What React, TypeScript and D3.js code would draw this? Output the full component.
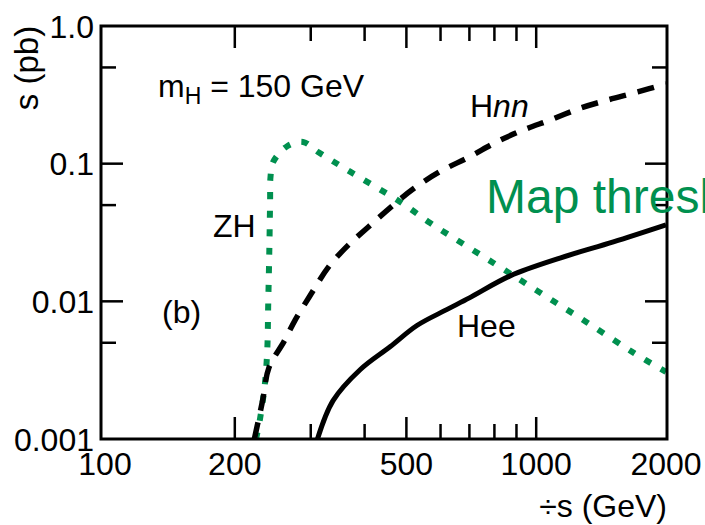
import React from "react";
import * as d3 from "d3";

const W = 705;
const H = 525;

// axis ticks
const xTickMajor = [200, 500, 1000];
const xTickMinor = [300, 400, 600, 700, 800, 900];
const xTickLabels = [100, 200, 500, 1000, 2000];
const yTickMajor = [0.1, 0.01];
const yTickMinor = [0.5, 0.05, 0.005];
const yTickValues = [1, 0.1, 0.01, 0.001];
const yTickLabels = ["1.0", "0.1", "0.01", "0.001"];

// e+e- -> H nu nu (WW fusion), sqrt(s) in GeV, sigma in pb
const hnnSqrtS = [222, 232, 240, 260, 276, 300, 330, 367, 408, 466, 520, 600, 700, 810, 935, 1080, 1270, 1465, 1720, 2000];
const hnnSigma = [0.001, 0.0019, 0.0033, 0.0051, 0.0073, 0.0112, 0.0178, 0.0257, 0.0347, 0.05, 0.066, 0.088, 0.112, 0.144, 0.176, 0.208, 0.254, 0.29, 0.332, 0.38];

// e+e- -> H e e (ZZ fusion)
const heeSqrtS = [311, 338, 391, 459, 530, 620, 700, 870, 1140, 1510, 2000];
const heeSigma = [0.001, 0.0019, 0.0032, 0.0047, 0.0067, 0.0087, 0.0106, 0.0153, 0.0207, 0.027, 0.0359];

// e+e- -> Z H (Higgs-strahlung)
const zhSqrtS = [224, 229, 235, 238, 239, 240.5, 241.5, 242, 245.5, 265, 288, 312, 371, 484, 568, 796, 1024, 1317, 1684, 2000];
const zhSigma = [0.001, 0.00142, 0.00256, 0.00467, 0.0091, 0.0236, 0.0545, 0.08, 0.103, 0.1345, 0.1438, 0.1216, 0.0871, 0.0527, 0.0371, 0.019, 0.0115, 0.00697, 0.00422, 0.00307];

const GREEN = "#00904f";
const FONT = "'Liberation Sans', Arial, Helvetica, sans-serif";

const frame = { left: 101, right: 667, top: 26, bottom: 439 };

export default function App() {
  const x = d3.scaleLog().domain([100, 2000]).range([105, 666]);
  const y = d3.scaleLog().domain([0.001, 1]).range([frame.bottom, frame.top]);

  const line = d3
    .line<[number, number]>()
    .x((d) => x(d[0]))
    .y((d) => y(d[1]))
    .curve(d3.curveCatmullRom.alpha(0.5));

  const zip = (a: number[], b: number[]) => a.map((v, i) => [v, b[i]] as [number, number]);

  const majorLen = 22;
  const minorLen = 15;

  return (
    <svg
      width={W}
      height={H}
      viewBox={`0 0 ${W} ${H}`}
      style={{ position: "absolute", left: 0, top: 0, background: "#fff" }}
      fontFamily={FONT}
    >
      <defs>
        <clipPath id="plot-area">
          <rect x={frame.left} y={frame.top} width={frame.right - frame.left} height={frame.bottom - frame.top} />
        </clipPath>
      </defs>

      {/* curves */}
      <g clipPath="url(#plot-area)" fill="none">
        <path d={line(zip(zhSqrtS, zhSigma)) || ""} stroke={GREEN} strokeWidth={6} strokeDasharray="7 11.5" />
        <path d={line(zip(hnnSqrtS, hnnSigma)) || ""} stroke="#000" strokeWidth={5.5} strokeDasharray="17 12" />
        <path d={line(zip(heeSqrtS, heeSigma)) || ""} stroke="#000" strokeWidth={5} />
      </g>

      {/* ticks */}
      <g stroke="#000" strokeWidth={2.5}>
        {xTickMajor.map((v) => (
          <g key={`xM${v}`}>
            <line x1={x(v)} x2={x(v)} y1={frame.bottom} y2={frame.bottom - majorLen} />
            <line x1={x(v)} x2={x(v)} y1={frame.top} y2={frame.top + majorLen} />
          </g>
        ))}
        {xTickMinor.map((v) => (
          <g key={`xm${v}`}>
            <line x1={x(v)} x2={x(v)} y1={frame.bottom} y2={frame.bottom - minorLen} />
            <line x1={x(v)} x2={x(v)} y1={frame.top} y2={frame.top + minorLen} />
          </g>
        ))}
        {yTickMajor.map((v) => (
          <g key={`yM${v}`}>
            <line x1={frame.left} x2={frame.left + majorLen} y1={y(v)} y2={y(v)} />
            <line x1={frame.right} x2={frame.right - majorLen} y1={y(v)} y2={y(v)} />
          </g>
        ))}
        {yTickMinor.map((v) => (
          <g key={`ym${v}`}>
            <line x1={frame.left} x2={frame.left + minorLen} y1={y(v)} y2={y(v)} />
            <line x1={frame.right} x2={frame.right - minorLen} y1={y(v)} y2={y(v)} />
          </g>
        ))}
      </g>

      {/* frame */}
      <rect
        x={frame.left}
        y={frame.top}
        width={frame.right - frame.left}
        height={frame.bottom - frame.top}
        fill="none"
        stroke="#000"
        strokeWidth={3}
      />

      {/* tick labels */}
      <g fontSize={32} fill="#000">
        {xTickLabels.map((v) => (
          <text key={`xl${v}`} x={x(v)} y={475} textAnchor="middle">
            {v}
          </text>
        ))}
        {yTickValues.map((v, i) => (
          <text key={`yl${v}`} x={94} y={y(v) + 11.5} textAnchor="end">
            {yTickLabels[i]}
          </text>
        ))}
      </g>

      {/* axis titles */}
      <text x={667} y={517} textAnchor="end" fontSize={32}>
        ÷s (GeV)
      </text>
      <text transform="translate(38,68) rotate(-90)" textAnchor="middle" fontSize={33}>
        s (pb)
      </text>

      {/* annotations */}
      <text x={158} y={97} fontSize={32}>
        m
        <tspan fontSize={23} dy={7}>H</tspan>
        <tspan dy={-7}> = 150 GeV</tspan>
      </text>
      <text x={470} y={117} fontSize={32}>
        H<tspan fontStyle="italic">nn</tspan>
      </text>
      <text x={213} y={237} fontSize={32}>ZH</text>
      <text x={162} y={323} fontSize={32}>(b)</text>
      <text x={457} y={337} fontSize={32}>Hee</text>
      <text x={486} y={213} fontSize={48} fill={GREEN}>
        Map threshold
      </text>
    </svg>
  );
}
